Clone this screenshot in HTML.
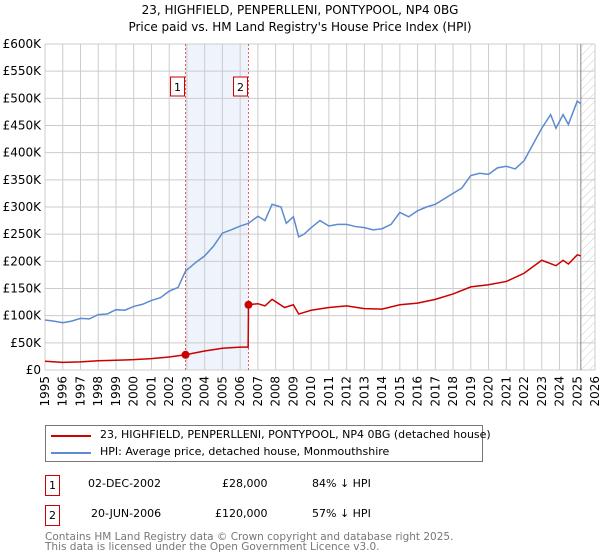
<!DOCTYPE html>
<html><head><meta charset="utf-8"><style>
body{margin:0;width:600px;height:560px;background:#fff;font-family:"DejaVu Sans","Liberation Sans",sans-serif;overflow:hidden;position:relative}
.t{position:absolute;white-space:nowrap;color:#000}
</style></head><body>
<div class="t" style="left:0;width:600px;text-align:center;top:3px;font-size:12px">23, HIGHFIELD, PENPERLLENI, PONTYPOOL, NP4 0BG</div>
<div class="t" style="left:0;width:600px;text-align:center;top:20px;font-size:12px">Price paid vs. HM Land Registry's House Price Index (HPI)</div>
<svg id="chart" width="600" height="420" style="position:absolute;left:0;top:0" font-family="DejaVu Sans, Liberation Sans, sans-serif"></svg>
<div style="position:absolute;left:45px;top:425px;width:436px;height:35px;border:1px solid #777">
<div style="position:absolute;left:5px;top:9px;width:40px;height:2px;background:#cc0000"></div>
<div class="t" style="left:54px;top:2px;font-size:11px">23, HIGHFIELD, PENPERLLENI, PONTYPOOL, NP4 0BG (detached house)</div>
<div style="position:absolute;left:5px;top:26px;width:40px;height:2px;background:#5b8bd0"></div>
<div class="t" style="left:54px;top:19px;font-size:11px">HPI: Average price, detached house, Monmouthshire</div>
</div>
<div style="position:absolute;left:45px;top:475px;width:13px;height:19px;border:1px solid #cc0000;font-size:11px;text-align:center;line-height:19px">1</div>
<div class="t" style="left:88px;top:477px;font-size:11px">02-DEC-2002</div>
<div class="t" style="left:222px;top:477px;font-size:11px">£28,000</div>
<div class="t" style="left:312px;top:477px;font-size:11px">84% ↓ HPI</div>
<div style="position:absolute;left:45px;top:505px;width:13px;height:19px;border:1px solid #cc0000;font-size:11px;text-align:center;line-height:19px">2</div>
<div class="t" style="left:91px;top:507px;font-size:11px">20-JUN-2006</div>
<div class="t" style="left:215px;top:507px;font-size:11px">£120,000</div>
<div class="t" style="left:312px;top:507px;font-size:11px">57% ↓ HPI</div>
<div class="t" style="left:45px;top:532px;font-size:10.5px;color:#777;line-height:10px">Contains HM Land Registry data © Crown copyright and database right 2025.<br>This data is licensed under the Open Government Licence v3.0.</div>
<script>
const hpiYears=[1995,1995.5,1996,1996.5,1997,1997.5,1998,1998.5,1999,1999.5,2000,2000.5,2001,2001.5,2002,2002.5,2002.92,2003.5,2004,2004.5,2005,2005.5,2006,2006.47,2007,2007.4,2007.8,2008.3,2008.6,2009.0,2009.3,2009.6,2010,2010.5,2011,2011.5,2012,2012.5,2013,2013.5,2014,2014.5,2015,2015.5,2016,2016.5,2017,2017.5,2018,2018.5,2019,2019.5,2020,2020.5,2021,2021.5,2022,2022.5,2023,2023.5,2023.8,2024.2,2024.5,2025,2025.2];
const hpiValues=[92,90,87,90,95,94,102,103,111,110,117,121,128,133,145,152,182,198,210,228,252,258,265,270,283,275,305,300,270,282,245,250,262,275,265,268,268,264,262,258,260,268,290,282,293,300,305,315,325,335,358,362,360,372,375,370,385,415,445,470,445,470,452,495,490];
const redYears=[1995,1996,1997,1998,1999,2000,2001,2002,2002.92,2004,2005,2006,2006.45,2006.47,2007,2007.4,2007.8,2008.5,2009,2009.3,2010,2011,2012,2013,2014,2015,2016,2017,2018,2019,2020,2021,2022,2023,2023.8,2024.2,2024.5,2025,2025.2];
const redValues=[16,14,15,17,18,19,21,24,28,35,40,42,42,120,122,118,130,115,120,103,110,115,118,113,112,120,123,130,140,153,157,163,178,202,192,202,195,212,210];
const sales=[[2002.92,28],[2006.47,120]];
const yTicks=[0,50,100,150,200,250,300,350,400,450,500,550,600];
const xTicks=[1995,1996,1997,1998,1999,2000,2001,2002,2003,2004,2005,2006,2007,2008,2009,2010,2011,2012,2013,2014,2015,2016,2017,2018,2019,2020,2021,2022,2023,2024,2025,2026];
const X0=45,X1=595,Y0=370,Y1=44;
const xs=v=>X0+(v-1995)/31*(X1-X0);
const ys=v=>Y0-v/600*(Y0-Y1);
const svg=document.getElementById('chart');
const NS='http://www.w3.org/2000/svg';
function mk(tag,at,name,parent){const e=document.createElementNS(NS,tag);for(const k in at)e.setAttribute(k,at[k]);


(parent||svg).appendChild(e);return e;}
mk('rect',{x:xs(2002.92),y:Y1,width:xs(2006.47)-xs(2002.92),height:Y0-Y1,fill:'#eef3fc'},'sale-period-shade');
const defs=mk('defs',{},'defs');
const pat=mk('pattern',{id:'h',width:6,height:6,patternUnits:'userSpaceOnUse',patternTransform:'rotate(45)'},'hatch-pattern',defs);
mk('line',{x1:0,y1:0,x2:0,y2:6,stroke:'#ccc','stroke-width':1},'hatch-line',pat);
mk('rect',{x:xs(2025.2),y:Y1,width:X1-xs(2025.2),height:Y0-Y1,fill:'url(#h)'},'forecast-hatch');
yTicks.forEach(t=>{mk('line',{x1:X0,x2:X1,y1:ys(t),y2:ys(t),stroke:'#ccc'},'y-gridline');
const tx=mk('text',{x:X0-4,y:ys(t)+4,'text-anchor':'end','font-size':12},'y-tick-label');tx.textContent=t?('£'+t+'K'):'£0';});
xTicks.forEach(t=>{mk('line',{x1:xs(t),x2:xs(t),y1:Y1,y2:Y0,stroke:'#ccc'},'x-gridline');
const tx=mk('text',{x:0,y:0,'text-anchor':'end','font-size':12,transform:`translate(${xs(t)+4},${Y0+6}) rotate(-90)`},'x-tick-label');tx.textContent=t;});
mk('line',{x1:xs(2025.2),x2:xs(2025.2),y1:Y1,y2:Y0,stroke:'#888'},'data-end-line');
sales.forEach((s,i)=>{mk('line',{x1:xs(s[0]),x2:xs(s[0]),y1:Y1,y2:Y0,stroke:'#e06060','stroke-dasharray':'2,2'},'sale-marker-line');
mk('rect',{x:xs(s[0])-15,y:77,width:14,height:19,fill:'#fff',stroke:'#cc0000'},'sale-badge');
const tx=mk('text',{x:xs(s[0])-8,y:91,'text-anchor':'middle','font-size':11},'sale-badge-label');tx.textContent=i+1;});
mk('polyline',{points:hpiYears.map((y,i)=>xs(y)+','+ys(hpiValues[i])).join(' '),fill:'none',stroke:'#5b8bd0','stroke-width':1.5},'hpi-line');
mk('polyline',{points:redYears.map((y,i)=>xs(y)+','+ys(redValues[i])).join(' '),fill:'none',stroke:'#cc0000','stroke-width':1.5},'property-line');
sales.forEach(s=>mk('circle',{cx:xs(s[0]),cy:ys(s[1]),r:4,fill:'#cc0000'},'sale-point'));
</script>
</body></html>
